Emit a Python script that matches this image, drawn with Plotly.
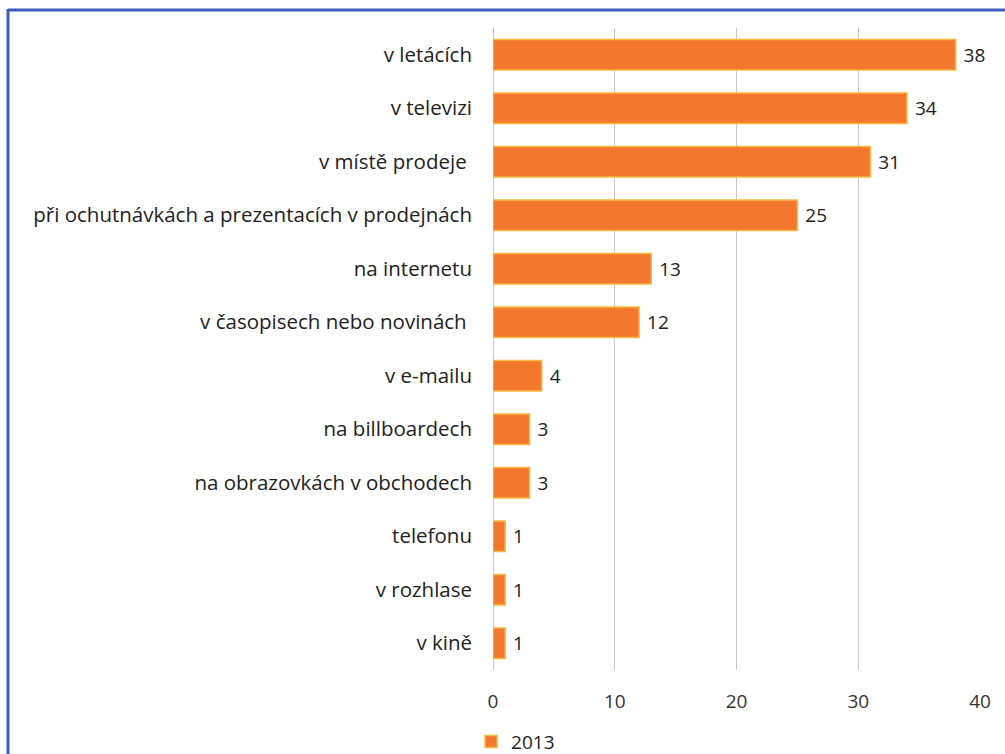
import plotly.graph_objects as go

categories = [
    "v letácích",
    "v televizi",
    "v místě prodeje\u00a0",
    "při ochutnávkách a prezentacích v prodejnách",
    "na internetu",
    "v časopisech nebo novinách\u00a0",
    "v e-mailu",
    "na billboardech",
    "na obrazovkách v obchodech",
    "telefonu",
    "v rozhlase",
    "v kině",
]
values_2013 = [38, 34, 31, 25, 13, 12, 4, 3, 3, 1, 1, 1]
series_name = "2013"
x_ticks = [0, 10, 20, 30, 40]

FONT = "'Open Sans', Lato, sans-serif"

fig = go.Figure()
fig.add_trace(go.Bar(
    y=categories,
    x=values_2013,
    orientation="h",
    name=series_name,
    marker=dict(color="#F3782E", line=dict(color="#F6B840", width=1.5)),
    text=["\u00a0" + str(v) for v in values_2013],
    textposition="outside",
    textfont=dict(family=FONT, size=19, color="#222222"),
    cliponaxis=False,
    constraintext="none",
))

fig.update_layout(
    width=1005, height=754,
    margin=dict(l=493, r=25, t=28, b=84, autoexpand=False),
    paper_bgcolor="white",
    plot_bgcolor="white",
    bargap=0.43,
    font=dict(family=FONT, size=19, color="#222222"),
    showlegend=True,
    legend=dict(orientation="h", x=-0.045, xanchor="left", y=-0.082, yanchor="top",
                font=dict(family=FONT, size=19, color="#222222"),
                itemwidth=30),
    xaxis=dict(range=[0, 40], tickvals=x_ticks, showgrid=True, gridcolor="#C8C8C8",
               gridwidth=1, zeroline=True, zerolinecolor="#C8C8C8", zerolinewidth=1,
               showline=False, ticks="", tickfont=dict(family=FONT, size=19, color="#333333"),
               ticklabelstandoff=18, automargin=False),
    yaxis=dict(categoryorder="array", categoryarray=categories, autorange="reversed",
               showgrid=False, showline=False, ticks="", ticklabelstandoff=20,
               tickfont=dict(family=FONT, size=20.5, color="#222222"), automargin=False),
    shapes=[
        dict(type="line", xref="paper", yref="paper",
             x0=(8 - 493) / 487, x1=(1005 - 493) / 487,
             y0=(670 - 10) / 642, y1=(670 - 10) / 642,
             line=dict(color="#3F5CC0", width=3)),
        dict(type="line", xref="paper", yref="paper",
             x0=(8 - 493) / 487, x1=(8 - 493) / 487,
             y0=(670 - 9) / 642, y1=(670 - 754) / 642,
             line=dict(color="#3F5CC0", width=3)),
    ],
)

fig.write_html("out.html")
